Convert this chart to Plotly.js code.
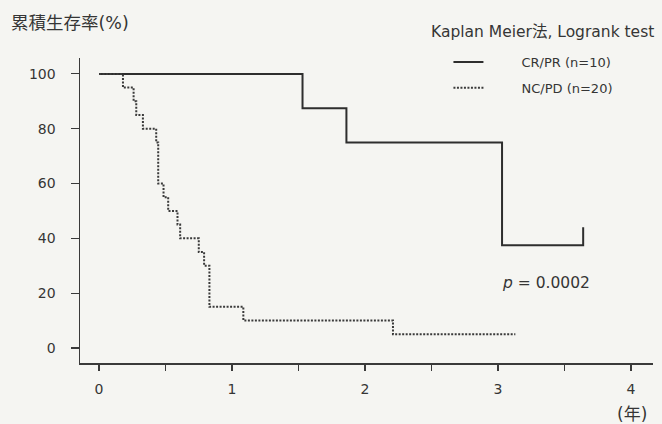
<!DOCTYPE html>
<html>
<head>
<meta charset="utf-8">
<script src="https://cdn.plot.ly/plotly-3.0.1.min.js"></script>
<style>
html,body{margin:0;padding:0;background:#f5f5f2;}
#chart{width:662px;height:424px;}
</style>
</head>
<body>
<div id="chart"></div>
<script>
// Kaplan-Meier curves (time in years, survival in %)
const crName = "CR/PR (n=10)";
const crTime = [0, 1.53, 1.86, 3.03, 3.64, 3.64];
const crSurv = [100, 87.5, 75, 37.5, 37.5, 44];

const ncName = "NC/PD (n=20)";
const ncTime = [0, 0.18, 0.26, 0.28, 0.33, 0.43, 0.445, 0.445, 0.445, 0.485, 0.52, 0.59, 0.61, 0.75, 0.79, 0.83, 0.83, 0.83, 1.085, 2.21, 3.13];
const ncSurv = [100, 95, 90, 85, 80, 75, 70, 65, 60, 55, 50, 45, 40, 35, 30, 25, 20, 15, 10, 5, 5];

const xTickVals = [0, 0.5, 1, 1.5, 2, 2.5, 3, 3.5, 4];
const xTickText = ["0", "", "1", "", "2", "", "3", "", "4"];
const yTickVals = [0, 20, 40, 60, 80, 100];

const yTitle = "累積生存率(%)";
const xUnit = "(年)";
const methodText = "Kaplan Meier法, Logrank test";
const pText = "<i>p</i> = 0.0002";

const FONT = "DejaVu Sans, Noto Sans CJK JP, sans-serif";
const INK = "#353535";
const NBSP = "\u00a0\u00a0\u00a0\u00a0\u00a0\u00a0\u00a0\u00a0";

const traces = [
  {x: crTime, y: crSurv, name: NBSP + crName, type: "scatter", mode: "lines",
   line: {shape: "hv", color: "#2e2e2e", width: 2}, legend: "legend"},
  {x: ncTime, y: ncSurv, name: NBSP + ncName, type: "scatter", mode: "lines",
   line: {shape: "hv", color: "#3a3a3a", width: 2, dash: "2px,1.5px"}, legend: "legend2"}
];

const layout = {
  width: 662, height: 424,
  margin: {l: 80, r: 9, t: 58, b: 61},
  paper_bgcolor: "#f5f5f2", plot_bgcolor: "#f5f5f2",
  font: {family: FONT, size: 13, color: INK},
  showlegend: true,
  legend: {x: 0.643, xanchor: "left", y: 0.987, yanchor: "middle", bgcolor: "rgba(0,0,0,0)",
           font: {family: FONT, size: 13, color: INK}},
  legend2: {x: 0.643, xanchor: "left", y: 0.902, yanchor: "middle", bgcolor: "rgba(0,0,0,0)",
           font: {family: FONT, size: 13, color: INK}},
  xaxis: {range: [-0.143, 4.165], showgrid: false, zeroline: false, showline: true,
          linecolor: "#3a3a3a", linewidth: 1.5, ticks: "outside", ticklen: 6, tickwidth: 1.2,
          tickcolor: "#3a3a3a", tickvals: xTickVals, ticktext: xTickText, ticklabelstandoff: 7,
          tickfont: {family: FONT, size: 14, color: INK}, fixedrange: true},
  yaxis: {range: [-5.5, 105.8], showgrid: false, zeroline: false, showline: true,
          linecolor: "#3a3a3a", linewidth: 1.5, ticks: "outside", ticklen: 8, tickwidth: 1.2,
          tickcolor: "#3a3a3a", tickvals: yTickVals, ticklabelstandoff: 12,
          tickfont: {family: FONT, size: 14, color: INK}, fixedrange: true},
  annotations: [
    {text: yTitle, xref: "paper", yref: "paper", x: -71/573, y: 1 + 35/305, xanchor: "left", yanchor: "middle",
     showarrow: false, font: {family: FONT, size: 17.5, color: INK}},
    {text: methodText, xref: "paper", yref: "paper", x: 1.005, y: 1 + 26/305, xanchor: "right", yanchor: "middle",
     showarrow: false, font: {family: FONT, size: 15.5, color: INK}},
    {text: pText, xref: "paper", yref: "paper", x: (546-80)/573, y: (363-283)/305, xanchor: "center", yanchor: "middle",
     showarrow: false, font: {family: FONT, size: 15.5, color: INK}},
    {text: xUnit, xref: "paper", yref: "paper", x: (632-80)/573, y: (363-414)/305, xanchor: "center", yanchor: "middle",
     showarrow: false, font: {family: FONT, size: 17, color: INK}}
  ]
};

Plotly.newPlot("chart", traces, layout, {displayModeBar: false, staticPlot: true});
</script>
</body>
</html>
